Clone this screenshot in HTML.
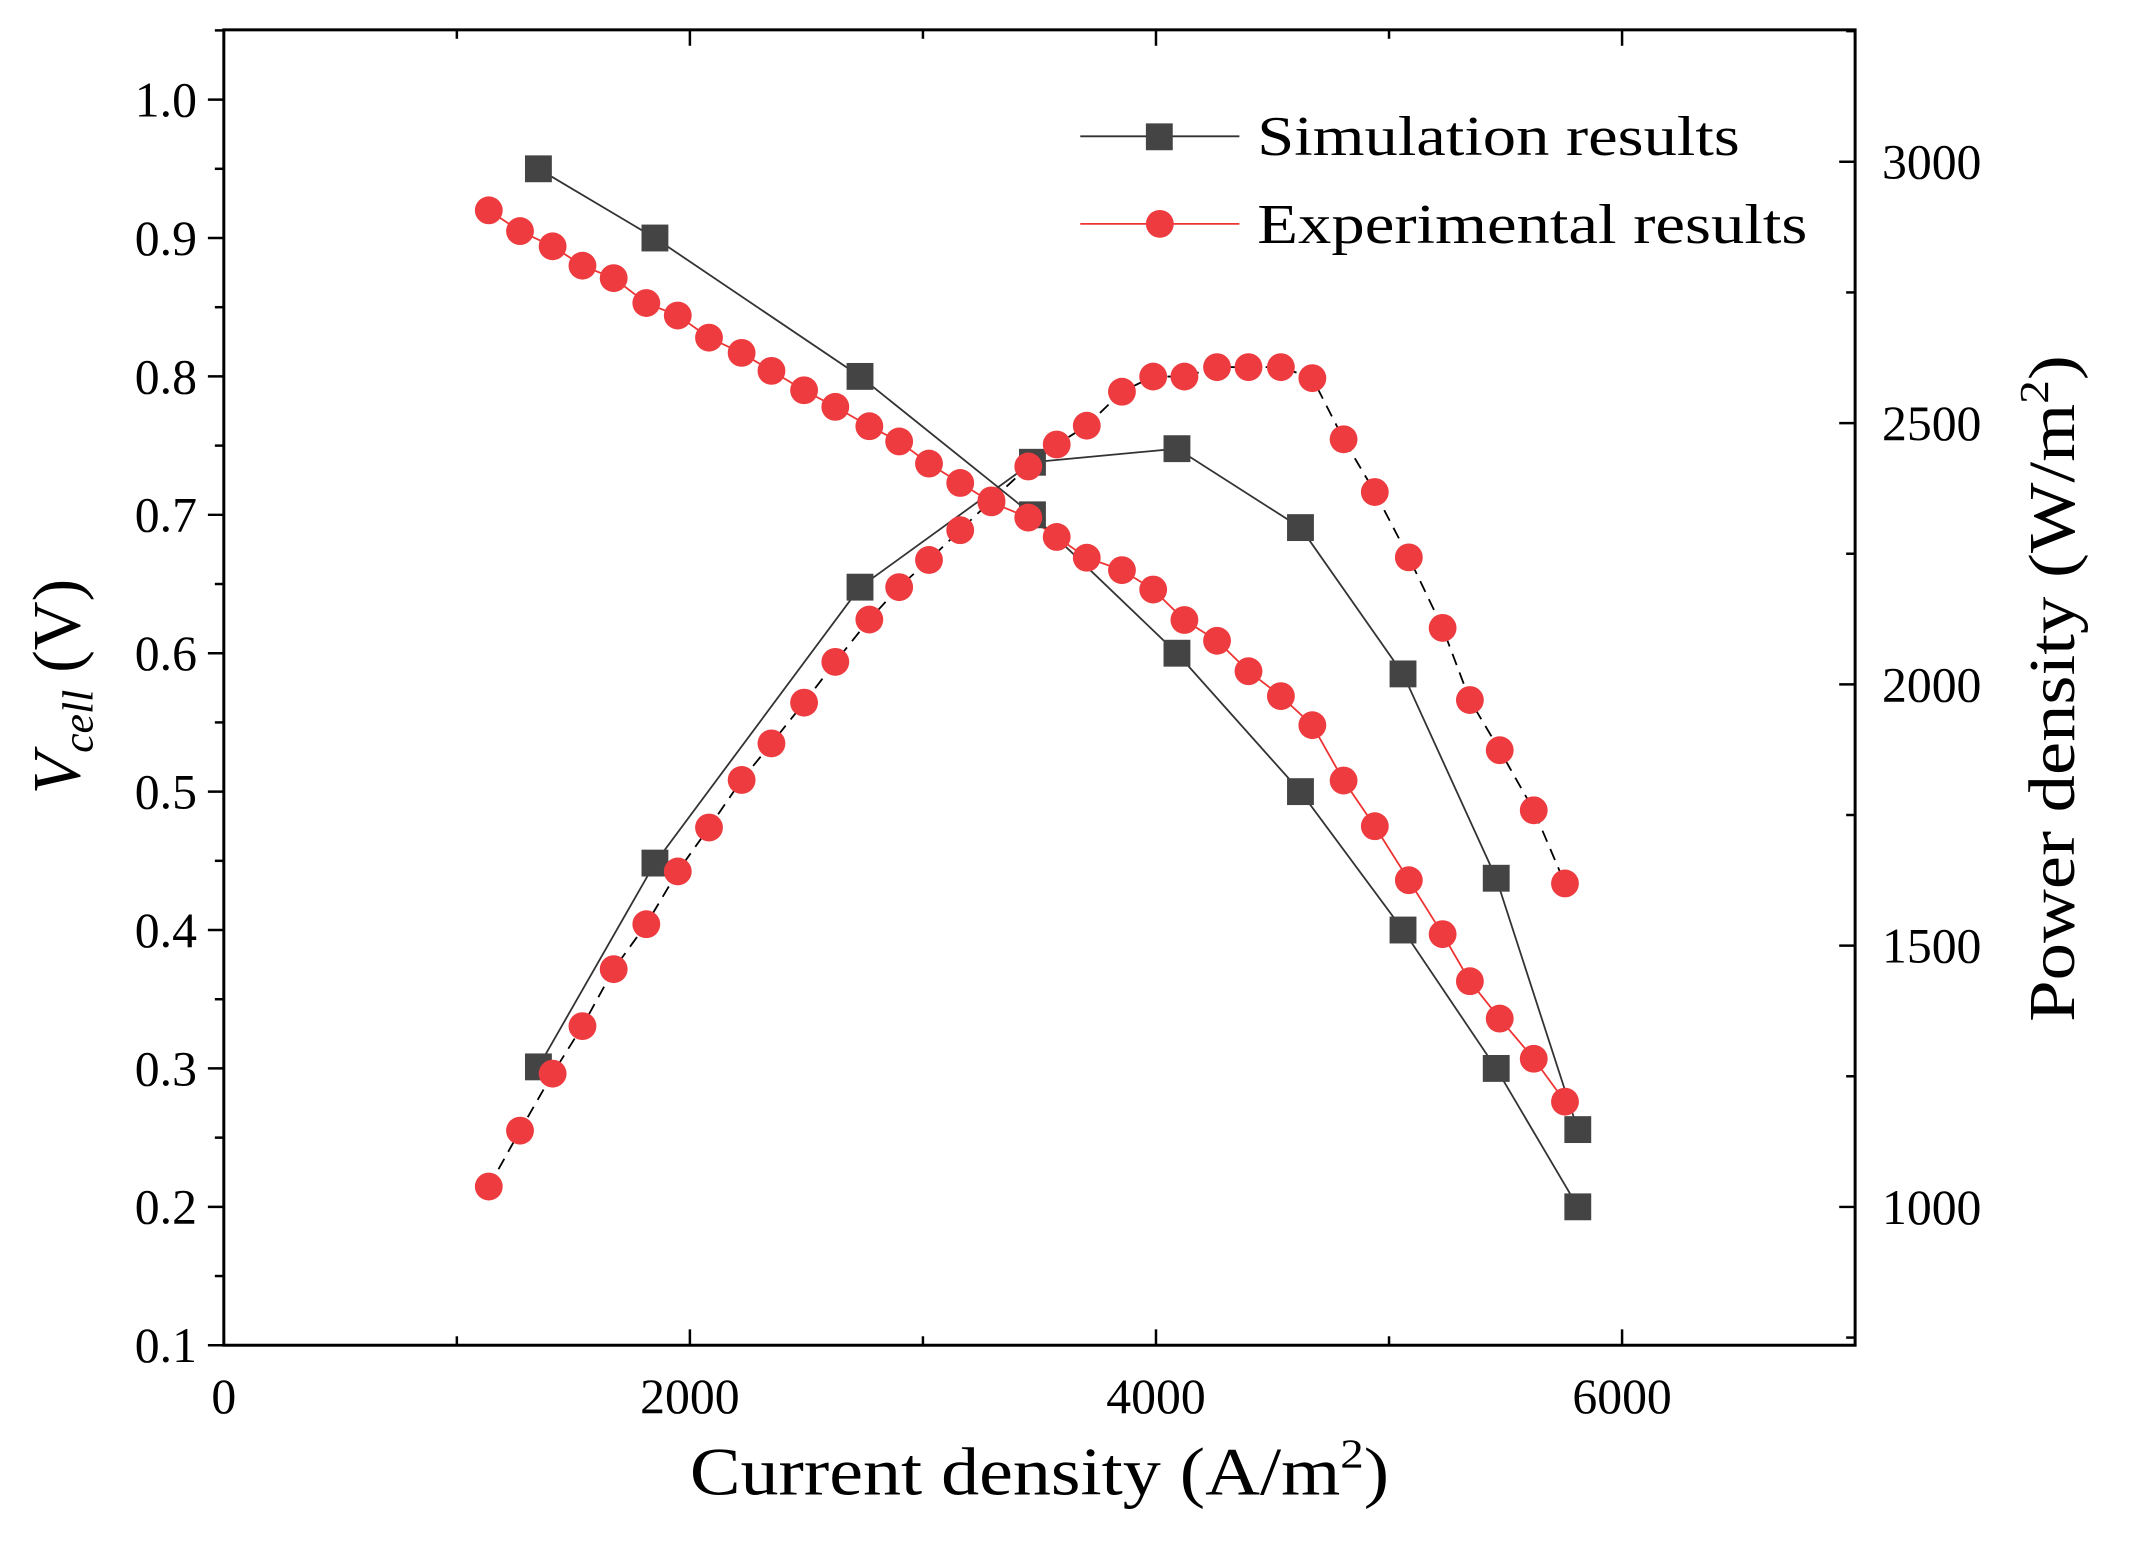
<!DOCTYPE html>
<html><head><meta charset="utf-8"><style>
html,body{margin:0;padding:0;background:#fff}
svg{display:block;font-family:"Liberation Serif",serif}
</style></head><body>
<svg id="chart" width="2131" height="1542" viewBox="0 0 2131 1542" xmlns="http://www.w3.org/2000/svg">
<g transform="scale(0.9947,0.995)">
<g id="axes"></g>
<g id="series"></g>
<g id="legend">
  <line x1="1086" y1="137" x2="1246" y2="137" stroke="#333" stroke-width="1.8"/>
  <rect x="1152" y="124" width="27" height="27" fill="#444"/>
  <text x="1264" y="156" font-size="56" textLength="485" lengthAdjust="spacingAndGlyphs">Simulation results</text>
  <line x1="1086" y1="225" x2="1246" y2="225" stroke="#e33" stroke-width="1.8"/>
  <circle cx="1166" cy="225" r="14" fill="#ee3b3f"/>
  <text x="1264" y="244" font-size="56" textLength="553" lengthAdjust="spacingAndGlyphs">Experimental results</text>
</g>
<text x="1045" y="1502" font-size="68" text-anchor="middle" textLength="703" lengthAdjust="spacingAndGlyphs">Current density (A/m<tspan font-size="42" dy="-27">2</tspan><tspan dy="27">)</tspan></text>
<text transform="translate(80,690) rotate(-90)" font-size="68" text-anchor="middle"><tspan font-style="italic">V</tspan><tspan font-style="italic" font-size="44" dy="13">cell</tspan><tspan dy="-13"> (V)</tspan></text>
<text transform="translate(2085,692) rotate(-90)" font-size="66" text-anchor="middle" textLength="670" lengthAdjust="spacingAndGlyphs">Power density (W/m<tspan font-size="42" dy="-26">2</tspan><tspan dy="26">)</tspan></text>
</g>
</svg>
<script>
const simCurrent=[1350,1850,2730,3470,4090,4620,5060,5460,5810];
const simVoltage=[0.95,0.9,0.8,0.7,0.6,0.5,0.4,0.3,0.2];
const simPower=[1268,1658,2186,2425,2451,2300,2020,1629,1148];
const expCurrent=[1137,1271,1411,1539,1673,1813,1948,2082,2222,2350,2490,2624,2770,2898,3026,3160,3294,3452,3574,3703,3854,3988,4122,4262,4397,4536,4671,4805,4939,5085,5230,5347,5475,5621,5755];
const expVoltage=[0.92,0.905,0.894,0.88,0.871,0.853,0.844,0.828,0.817,0.804,0.79,0.778,0.764,0.753,0.737,0.723,0.709,0.698,0.684,0.669,0.66,0.646,0.624,0.609,0.587,0.569,0.548,0.508,0.475,0.436,0.397,0.363,0.336,0.307,0.276];
const expPower=[1039,1146,1255,1346,1455,1541,1642,1726,1817,1887,1965,2043,2124,2186,2238,2295,2352,2417,2459,2495,2560,2589,2589,2607,2607,2607,2586,2469,2368,2243,2108,1970,1874,1759,1619];
const xTicks=[0,2000,4000,6000];
const yLeftTicks=["0.1","0.2","0.3","0.4","0.5","0.6","0.7","0.8","0.9","1.0"];
const yRightTicks=[1000,1500,2000,2500,3000];

const NS="http://www.w3.org/2000/svg";
const L=225,R=1865,T=30,B=1352;
const px=x=>L+x/7000*(R-L);
const pyL=v=>1352-(v-0.1)/0.1*139.1;
const pyR=p=>1213-(p-1000)*0.5252;
function mk(tag,attrs,parent){const e=document.createElementNS(NS,tag);for(const k in attrs)e.setAttribute(k,attrs[k]);parent.appendChild(e);return e;}
const axes=document.getElementById('axes'),ser=document.getElementById('series');

let f=mk('rect',{x:L,y:T,width:R-L,height:B-T,fill:'none',stroke:'#000','stroke-width':3},axes);


for(let v=0;v<=7000;v+=1000){
  const major=v%2000===0, len=major?16:9;
  let t=mk('line',{x1:px(v),y1:B,x2:px(v),y2:B-len,stroke:'#000','stroke-width':2.5},axes);
  
  
  let t2=mk('line',{x1:px(v),y1:T,x2:px(v),y2:T+len,stroke:'#000','stroke-width':2.5},axes);
  
  
}
xTicks.forEach(v=>{
  let t=mk('text',{x:px(v),y:1420,'font-size':50,'text-anchor':'middle'},axes);t.textContent=v;
  
  
});
for(let i=0;i<=19;i++){
  const v=0.1+i*0.05, major=i%2===0, len=major?16:9;
  if(v>1.06)break;
  let t=mk('line',{x1:L,y1:pyL(v),x2:L-len,y2:pyL(v),stroke:'#000','stroke-width':2.5},axes);
  
  
}
yLeftTicks.forEach(s=>{
  let t=mk('text',{x:198,y:pyL(parseFloat(s))+17,'font-size':50,'text-anchor':'end'},axes);t.textContent=s;
  
  
});
for(let p=750;p<=3250;p+=250){
  const major=p%500===0,len=major?16:9;
  let t=mk('line',{x1:R,y1:pyR(p),x2:R-len,y2:pyR(p),stroke:'#000','stroke-width':2.5},axes);
  
  
}
yRightTicks.forEach(p=>{
  let t=mk('text',{x:1892,y:pyR(p)+17,'font-size':50},axes);t.textContent=p;
  
  
});
function line(xs,ys,fy,color,dash,name){
  const pts=xs.map((x,i)=>px(x)+','+fy(ys[i])).join(' ');
  let e=mk('polyline',{points:pts,fill:'none',stroke:color,'stroke-width':1.8},ser);
  if(dash)e.setAttribute('stroke-dasharray',dash);
  
  
}
line(simCurrent,simVoltage,pyL,'#333',null,'sim-voltage-line');
line(simCurrent,simPower,pyR,'#333',null,'sim-power-line');
line(expCurrent,expVoltage,pyL,'#e33',null,'exp-voltage-line');
line(expCurrent,expPower,pyR,'#000','12,8','exp-power-line');
function sq(xs,ys,fy,name){xs.forEach((x,i)=>{let e=mk('rect',{x:px(x)-13.5,y:fy(ys[i])-13.5,width:27,height:27,fill:'#444'},ser);
  
  });}
function ci(xs,ys,fy,name){xs.forEach((x,i)=>{let e=mk('circle',{cx:px(x),cy:fy(ys[i]),r:14,fill:'#ee3b3f'},ser);
  
  });}
sq(simCurrent,simVoltage,pyL,'sim-voltage-point');
sq(simCurrent,simPower,pyR,'sim-power-point');
ci(expCurrent,expVoltage,pyL,'exp-voltage-point');
ci(expCurrent,expPower,pyR,'exp-power-point');
</script>
</body></html>
